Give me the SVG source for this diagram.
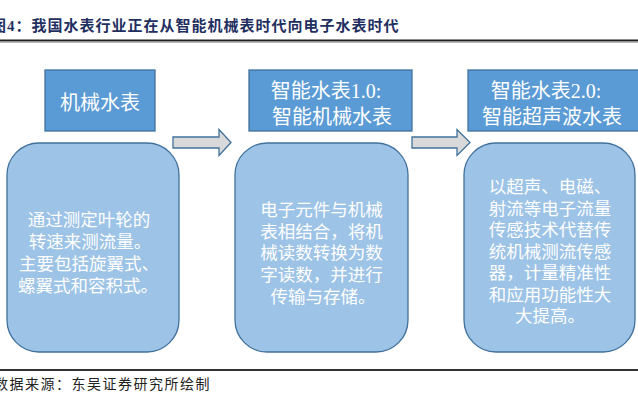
<svg xmlns="http://www.w3.org/2000/svg" width="638" height="401" viewBox="0 0 638 401">
<style>
.hdr{fill:#5B9BD5;stroke:#41719C;stroke-width:1.3}
.body{fill:#9DC3E6;stroke:#41719C;stroke-width:1.3}
.arr{fill:#D9D9D9;stroke:#41719C;stroke-width:1.3}
.ht{font-family:"Liberation Serif","Noto Sans CJK SC",serif;font-size:20px;fill:#FFFFFF;text-anchor:middle}
.bt{font-family:"Liberation Serif","Noto Sans CJK SC",serif;font-size:17.5px;fill:#FFFFFF;text-anchor:middle}
.title{font-family:"Liberation Serif","Noto Sans CJK SC",serif;font-size:15px;font-weight:bold;fill:#1F2F5F;letter-spacing:1px}
.src{font-family:"Liberation Serif","Noto Sans CJK SC",serif;font-size:14px;fill:#222222;letter-spacing:1.5px}
</style>
<rect width="638" height="401" fill="#FFFFFF"/>
<text class="title" x="-9" y="31">图4：我国水表行业正在从智能机械表时代向电子水表时代</text>
<line x1="0" y1="40.5" x2="638" y2="40.5" stroke="#222222" stroke-width="2"/>
<line x1="0" y1="42.5" x2="638" y2="42.5" stroke="#AAAAAA" stroke-width="0.8"/>
<line x1="0" y1="370" x2="638" y2="370" stroke="#333333" stroke-width="1.8"/>
<text class="src" x="-6" y="389">数据来源：东吴证券研究所绘制</text>

<g id="connectors">
<path class="arr" d="M173,137 H219 V129.5 L231,142.5 L219,155.5 V148 H173 Z"/>
<path class="arr" d="M412,137 H457 V129.5 L470,142.5 L457,155.5 V148 H412 Z"/>
</g>

<g id="node-mech-header">
<rect class="hdr" x="45" y="70" width="110" height="61"/>
<text class="ht" x="100" y="110">机械水表</text>
</g>
<g id="node-mech-body">
<rect class="body" x="7" y="143" width="172" height="209" rx="32" ry="32"/>
<text class="bt" x="89" y="226">通过测定叶轮的</text>
<text class="bt" x="90" y="248">转速来测流量。</text>
<text class="bt" x="89" y="270">主要包括旋翼式、</text>
<text class="bt" x="88" y="292">螺翼式和容积式。</text>
</g>

<g id="node-smart1-header">
<rect class="hdr" x="249" y="70" width="163" height="61"/>
<text class="ht" x="326" y="98">智能水表1.0:</text>
<text class="ht" x="332" y="124">智能机械水表</text>
</g>
<g id="node-smart1-body">
<rect class="body" x="235" y="143" width="173" height="209" rx="32" ry="32"/>
<text class="bt" x="321.5" y="216">电子元件与机械</text>
<text class="bt" x="321.5" y="237.7">表相结合，将机</text>
<text class="bt" x="321.5" y="259.4">械读数转换为数</text>
<text class="bt" x="321.5" y="281">字读数，并进行</text>
<text class="bt" x="323" y="302.8">传输与存储。</text>
</g>

<g id="node-smart2-header">
<rect class="hdr" x="468" y="70" width="172" height="61"/>
<text class="ht" x="546" y="98">智能水表2.0:</text>
<text class="ht" x="552" y="124">智能超声波水表</text>
</g>
<g id="node-smart2-body">
<rect class="body" x="464" y="143" width="171" height="209" rx="32" ry="32"/>
<text class="bt" x="550" y="193">以超声、电磁、</text>
<text class="bt" x="550" y="214.5">射流等电子流量</text>
<text class="bt" x="550" y="236">传感技术代替传</text>
<text class="bt" x="550" y="257.5">统机械测流传感</text>
<text class="bt" x="550" y="279">器，计量精准性</text>
<text class="bt" x="550" y="300.5">和应用功能性大</text>
<text class="bt" x="550" y="322">大提高。</text>
</g>
</svg>
